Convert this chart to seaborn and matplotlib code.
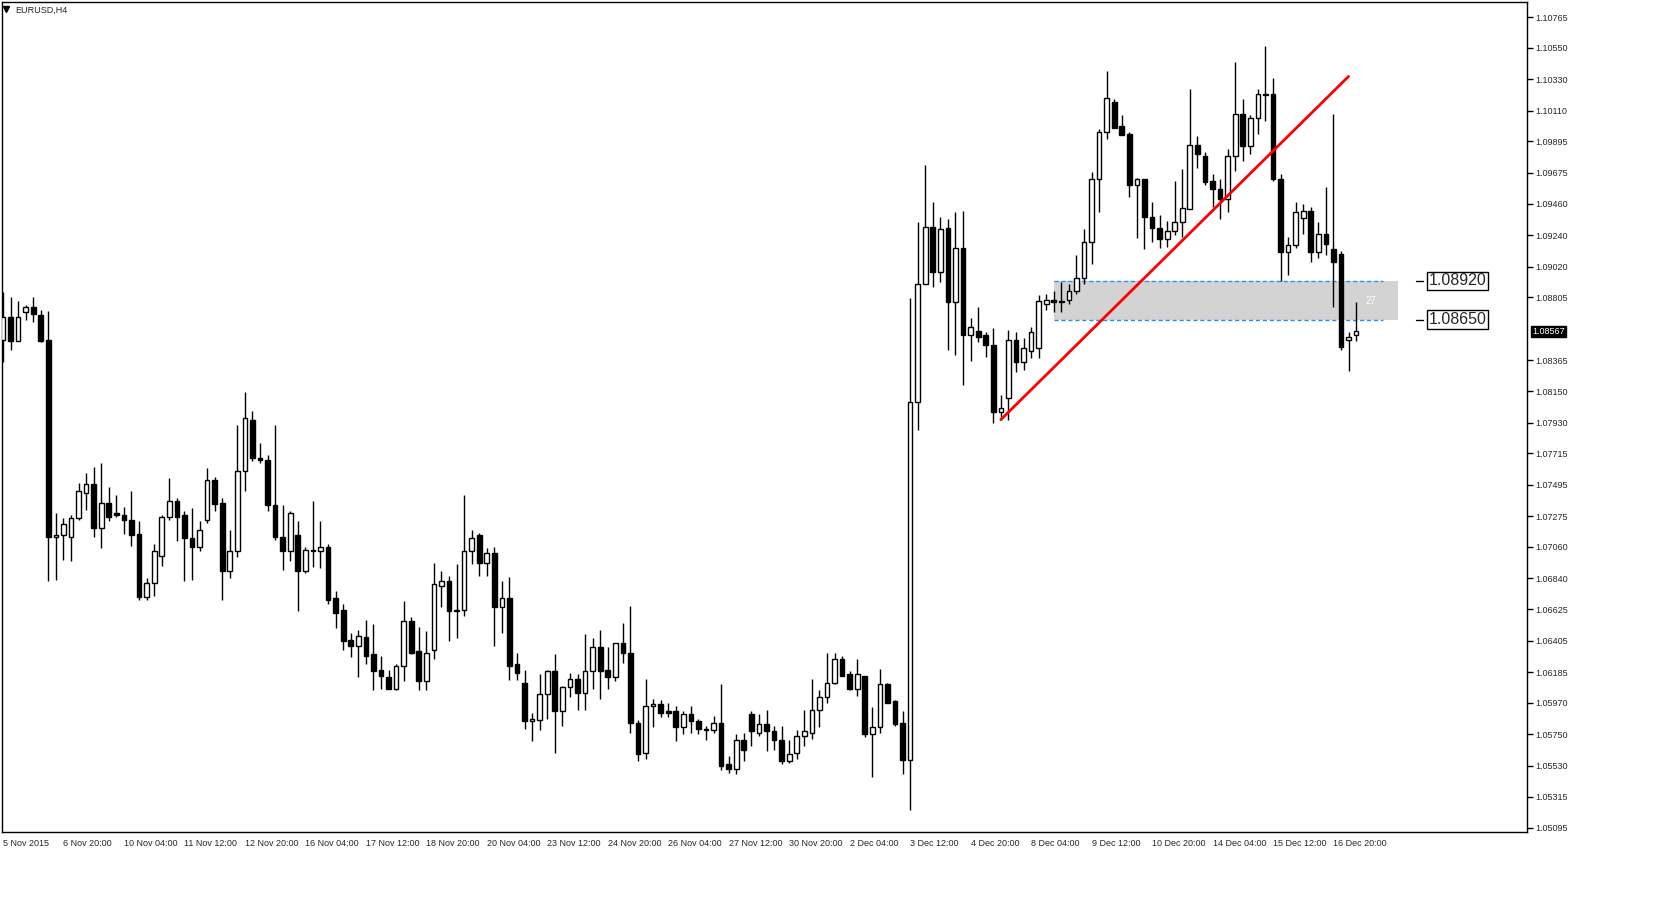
import numpy as np
import pandas as pd
import seaborn as sns
import matplotlib.pyplot as plt
from matplotlib.patches import Rectangle

# -------- DATA (EURUSD H4 candles) --------
opens = [1.0851, 1.0867, 1.0850, 1.0870, 1.0874, 1.0868, 1.0851, 1.0713, 1.0714, 1.0713,
         1.0726, 1.0744, 1.0750, 1.0719, 1.0737, 1.0730, 1.0728, 1.0725, 1.0715, 1.0671,
         1.0681, 1.0700, 1.0727, 1.0738, 1.0728, 1.0712, 1.0706, 1.0725, 1.0753, 1.0737,
         1.0689, 1.0703, 1.0759, 1.0795, 1.0768, 1.0767, 1.0735, 1.0713, 1.0703, 1.0714,
         1.0689, 1.0704, 1.0703, 1.0706, 1.0670, 1.0662, 1.0641, 1.0637, 1.0643, 1.0631,
         1.0620, 1.0615, 1.0607, 1.0623, 1.0654, 1.0633, 1.0612, 1.0634, 1.0679, 1.0682,
         1.0661, 1.0662, 1.0703, 1.0714, 1.0695, 1.0702, 1.0664, 1.0670, 1.0624, 1.0611,
         1.0584, 1.0585, 1.0603, 1.0619, 1.0591, 1.0608, 1.0614, 1.0604, 1.0619, 1.0636,
         1.0620, 1.0615, 1.0639, 1.0632, 1.0583, 1.0562, 1.0595, 1.0596, 1.0591, 1.0591,
         1.0580, 1.0589, 1.0584, 1.0579, 1.0578, 1.0583, 1.0554, 1.0551, 1.0571, 1.0589,
         1.0576, 1.0582, 1.0577, 1.0571, 1.0556, 1.0562, 1.0574, 1.0576, 1.0592, 1.0601,
         1.0611, 1.0628, 1.0617, 1.0607, 1.0616, 1.0575, 1.0580, 1.0610, 1.0598, 1.0583,
         1.0557, 1.0807, 1.0890, 1.0930, 1.0898, 1.0929, 1.0877, 1.0915, 1.0854, 1.0857,
         1.0854, 1.0847, 1.0800, 1.0810, 1.0851, 1.0835, 1.0843, 1.0845, 1.0876, 1.0879,
         1.0877, 1.0879, 1.0885, 1.0894, 1.0919, 1.0963, 1.0996, 1.1017, 1.1000, 1.0995,
         1.0959, 1.0963, 1.0937, 1.0929, 1.0921, 1.0927, 1.0933, 1.0942, 1.0987, 1.0979,
         1.0962, 1.0956, 1.0949, 1.0979, 1.1009, 1.0986, 1.1006, 1.1023, 1.1023, 1.0963,
         1.0912, 1.0917, 1.0936, 1.0941, 1.0912, 1.0925, 1.0914, 1.0911, 1.0851, 1.0854]
highs = [1.0884, 1.0881, 1.0878, 1.0875, 1.0881, 1.0872, 1.0871, 1.0730, 1.0726, 1.0728,
         1.0751, 1.0758, 1.0762, 1.0765, 1.0748, 1.0742, 1.0734, 1.0745, 1.0724, 1.0684,
         1.0708, 1.0728, 1.0754, 1.0740, 1.0731, 1.0733, 1.0724, 1.0761, 1.0755, 1.0740,
         1.0718, 1.0791, 1.0814, 1.0801, 1.0779, 1.0770, 1.0791, 1.0735, 1.0731, 1.0724,
         1.0706, 1.0738, 1.0724, 1.0708, 1.0675, 1.0666, 1.0646, 1.0648, 1.0655, 1.0652,
         1.0630, 1.0620, 1.0624, 1.0668, 1.0657, 1.0650, 1.0647, 1.0695, 1.0689, 1.0686,
         1.0694, 1.0742, 1.0718, 1.0716, 1.0705, 1.0706, 1.0682, 1.0685, 1.0632, 1.0620,
         1.0590, 1.0617, 1.0620, 1.0631, 1.0609, 1.0618, 1.0617, 1.0645, 1.0642, 1.0648,
         1.0636, 1.0639, 1.0653, 1.0665, 1.0585, 1.0614, 1.0600, 1.0599, 1.0597, 1.0595,
         1.0591, 1.0595, 1.0586, 1.0581, 1.0588, 1.0610, 1.0560, 1.0575, 1.0576, 1.0591,
         1.0589, 1.0592, 1.0581, 1.0581, 1.0571, 1.0578, 1.0592, 1.0614, 1.0606, 1.0632,
         1.0632, 1.0630, 1.0619, 1.0628, 1.0616, 1.0594, 1.0621, 1.0611, 1.0599, 1.0591,
         1.0880, 1.0933, 1.0973, 1.0947, 1.0937, 1.0935, 1.0940, 1.0941, 1.0866, 1.0874,
         1.0856, 1.0859, 1.0812, 1.0858, 1.0856, 1.0852, 1.0860, 1.0882, 1.0883, 1.0885,
         1.0891, 1.0890, 1.0910, 1.0928, 1.0968, 1.0998, 1.1039, 1.1019, 1.1008, 1.0996,
         1.0964, 1.0963, 1.0947, 1.0938, 1.0934, 1.0962, 1.0970, 1.1026, 1.0993, 1.0982,
         1.0967, 1.0963, 1.0984, 1.1045, 1.1019, 1.1008, 1.1026, 1.1056, 1.1034, 1.0967,
         1.0923, 1.0947, 1.0946, 1.0944, 1.0933, 1.0958, 1.1009, 1.0913, 1.0856, 1.0877]
lows = [1.0835, 1.0844, 1.0850, 1.0865, 1.0863, 1.0849, 1.0682, 1.0683, 1.0697, 1.0696,
        1.0725, 1.0732, 1.0713, 1.0705, 1.0724, 1.0727, 1.0715, 1.0707, 1.0669, 1.0669,
        1.0672, 1.0693, 1.0725, 1.0710, 1.0682, 1.0683, 1.0703, 1.0723, 1.0731, 1.0669,
        1.0684, 1.0699, 1.0745, 1.0766, 1.0765, 1.0731, 1.0711, 1.0690, 1.0696, 1.0661,
        1.0688, 1.0692, 1.0691, 1.0666, 1.0649, 1.0634, 1.0629, 1.0615, 1.0624, 1.0606,
        1.0607, 1.0607, 1.0606, 1.0612, 1.0631, 1.0606, 1.0606, 1.0628, 1.0664, 1.0640,
        1.0642, 1.0658, 1.0694, 1.0686, 1.0686, 1.0637, 1.0646, 1.0613, 1.0613, 1.0579,
        1.0570, 1.0578, 1.0586, 1.0562, 1.0581, 1.0601, 1.0592, 1.0592, 1.0607, 1.0600,
        1.0607, 1.0612, 1.0625, 1.0576, 1.0556, 1.0558, 1.0580, 1.0587, 1.0587, 1.0570,
        1.0575, 1.0576, 1.0575, 1.0571, 1.0576, 1.0550, 1.0548, 1.0547, 1.0556, 1.0567,
        1.0574, 1.0563, 1.0564, 1.0554, 1.0555, 1.0558, 1.0567, 1.0572, 1.0580, 1.0597,
        1.0610, 1.0616, 1.0606, 1.0602, 1.0573, 1.0545, 1.0576, 1.0597, 1.0581, 1.0547,
        1.0522, 1.0788, 1.0890, 1.0888, 1.0891, 1.0844, 1.0840, 1.0819, 1.0836, 1.0849,
        1.0839, 1.0793, 1.0795, 1.0795, 1.0828, 1.0830, 1.0838, 1.0838, 1.0872, 1.0870,
        1.0870, 1.0876, 1.0883, 1.0890, 1.0904, 1.0940, 1.0991, 1.0999, 1.0994, 1.0951,
        1.0922, 1.0914, 1.0919, 1.0915, 1.0916, 1.0924, 1.0923, 1.0942, 1.0971, 1.0959,
        1.0944, 1.0935, 1.0940, 1.0969, 1.0976, 1.0981, 1.0995, 1.1004, 1.0962, 1.0892,
        1.0896, 1.0915, 1.0925, 1.0905, 1.0908, 1.0910, 1.0874, 1.0844, 1.0829, 1.0850]
closes = [1.0867, 1.0850, 1.0867, 1.0874, 1.0869, 1.0850, 1.0713, 1.0714, 1.0722, 1.0726,
          1.0745, 1.0750, 1.0719, 1.0737, 1.0727, 1.0728, 1.0725, 1.0714, 1.0671, 1.0681,
          1.0703, 1.0727, 1.0738, 1.0727, 1.0712, 1.0706, 1.0718, 1.0753, 1.0736, 1.0689,
          1.0703, 1.0759, 1.0796, 1.0768, 1.0767, 1.0735, 1.0713, 1.0703, 1.0730, 1.0689,
          1.0704, 1.0703, 1.0706, 1.0669, 1.0660, 1.0640, 1.0637, 1.0644, 1.0630, 1.0619,
          1.0616, 1.0607, 1.0623, 1.0654, 1.0632, 1.0612, 1.0632, 1.0680, 1.0682, 1.0661,
          1.0662, 1.0703, 1.0712, 1.0695, 1.0702, 1.0664, 1.0670, 1.0623, 1.0618, 1.0584,
          1.0586, 1.0603, 1.0619, 1.0591, 1.0608, 1.0614, 1.0604, 1.0619, 1.0636, 1.0619,
          1.0615, 1.0639, 1.0632, 1.0583, 1.0561, 1.0595, 1.0596, 1.0590, 1.0590, 1.0580,
          1.0589, 1.0584, 1.0579, 1.0578, 1.0583, 1.0553, 1.0551, 1.0571, 1.0564, 1.0577,
          1.0582, 1.0577, 1.0571, 1.0556, 1.0561, 1.0574, 1.0577, 1.0592, 1.0601, 1.0611,
          1.0628, 1.0616, 1.0607, 1.0617, 1.0575, 1.0580, 1.0610, 1.0597, 1.0582, 1.0557,
          1.0807, 1.0890, 1.0930, 1.0898, 1.0928, 1.0877, 1.0915, 1.0854, 1.0860, 1.0853,
          1.0847, 1.0800, 1.0803, 1.0851, 1.0835, 1.0845, 1.0856, 1.0878, 1.0879, 1.0877,
          1.0878, 1.0885, 1.0894, 1.0919, 1.0963, 1.0996, 1.1020, 1.0999, 1.0994, 1.0959,
          1.0963, 1.0937, 1.0929, 1.0921, 1.0927, 1.0933, 1.0943, 1.0987, 1.0981, 1.0961,
          1.0956, 1.0949, 1.0979, 1.1009, 1.0986, 1.1006, 1.1023, 1.1022, 1.0963, 1.0912,
          1.0917, 1.0940, 1.0941, 1.0912, 1.0925, 1.0918, 1.0905, 1.0846, 1.0853, 1.08567]

price_ticks = [1.10765, 1.10550, 1.10330, 1.10110, 1.09895, 1.09675, 1.09460, 1.09240,
               1.09020, 1.08805, 1.08365, 1.08150, 1.07930, 1.07715, 1.07495, 1.07275,
               1.07060, 1.06840, 1.06625, 1.06405, 1.06185, 1.05970, 1.05750, 1.05530,
               1.05315, 1.05095]
time_labels = ["5 Nov 2015", "6 Nov 20:00", "10 Nov 04:00", "11 Nov 12:00", "12 Nov 20:00",
               "16 Nov 04:00", "17 Nov 12:00", "18 Nov 20:00", "20 Nov 04:00", "23 Nov 12:00",
               "24 Nov 20:00", "26 Nov 04:00", "27 Nov 12:00", "30 Nov 20:00", "2 Dec 04:00",
               "3 Dec 12:00", "4 Dec 20:00", "8 Dec 04:00", "9 Dec 12:00", "10 Dec 20:00",
               "14 Dec 04:00", "15 Dec 12:00", "16 Dec 20:00"]
zone_levels = [1.08920, 1.08650]
trend_bars = [132, 178]
trend_prices = [1.0795, 1.1035]
current_price = 1.08567

df = pd.DataFrame({"open": opens, "high": highs, "low": lows, "close": closes})
df["bar"] = np.arange(len(df))
df["up"] = df["close"] >= df["open"]

# -------- FIGURE --------
sns.set_theme(style="white")
plt.rcParams["font.family"] = ["Liberation Sans", "DejaVu Sans"]
fig = plt.figure(figsize=(16.59, 8.98), dpi=100)
ax = fig.add_axes([2 / 1659, 66 / 898, 1525 / 1659, 830 / 898])

ax.set_xlim(-0.13, 201.6)
ax.set_ylim(1.05067, 1.10870)

# zone + dashed levels
ax.add_patch(Rectangle((139, zone_levels[1]), 184.5 - 139, zone_levels[0] - zone_levels[1],
                       facecolor="#d3d3d3", edgecolor="none", zorder=1))
for lv in zone_levels:
    ax.hlines(lv, 139, 182.5, colors="#1e90ff", linestyles=(0, (3, 2)), linewidth=1, zorder=2)
ax.text(181, 1.08780, "27", color="white", fontsize=7, ha="center", va="center", zorder=2)

# candles
ax.vlines(df["bar"], df["low"], df["high"], color="black", linewidth=1, zorder=3)
body = (df["close"] - df["open"]).abs().clip(lower=0.00003)
bottom = df[["open", "close"]].min(axis=1)
ax.bar(df["bar"], body, bottom=bottom, width=0.62,
       color=np.where(df["up"], "white", "black"), edgecolor="black", linewidth=1, zorder=4)

# trend line
sns.lineplot(x=trend_bars, y=trend_prices, color="red", linewidth=2, ax=ax, zorder=5)

# level labels on the right
for lv in zone_levels:
    ax.plot([186.9, 187.9], [lv, lv], color="black", linewidth=1, clip_on=False)
    ax.text(188.6, lv, f"{lv:.5f}", fontsize=11.5, va="center", ha="left",
            bbox=dict(boxstyle="square,pad=0.1", facecolor="white", edgecolor="black", linewidth=1))

# axes styling
for s in ax.spines.values():
    s.set_color("black")
    s.set_linewidth(1)
ax.yaxis.tick_right()
ax.set_yticks(price_ticks)
ax.set_yticklabels([f"{p:.5f}" for p in price_ticks], fontsize=6.5)
ax.set_xticks(np.arange(0, 8 * len(time_labels), 8))
ax.set_xticklabels(time_labels, fontsize=6.5, ha="left")
ax.tick_params(axis="both", length=4, width=1, color="black", direction="out", pad=2)
ax.tick_params(axis="x", pad=1)
ax.set_xlabel("")
ax.set_ylabel("")

# current price tag
ax.text(1.0035, current_price, f"{current_price:.5f}", transform=ax.get_yaxis_transform(),
        fontsize=6.5, color="white", va="center", ha="left",
        bbox=dict(boxstyle="square,pad=0.15", facecolor="black", edgecolor="black"))

ax.text(0.009, 0.996, "EURUSD,H4", transform=ax.transAxes, fontsize=6.5, va="top", ha="left")
ax.plot([0.0025], [0.9915], marker="v", markersize=4, color="black", transform=ax.transAxes)

fig.savefig("out.png", dpi=100, facecolor="white")
